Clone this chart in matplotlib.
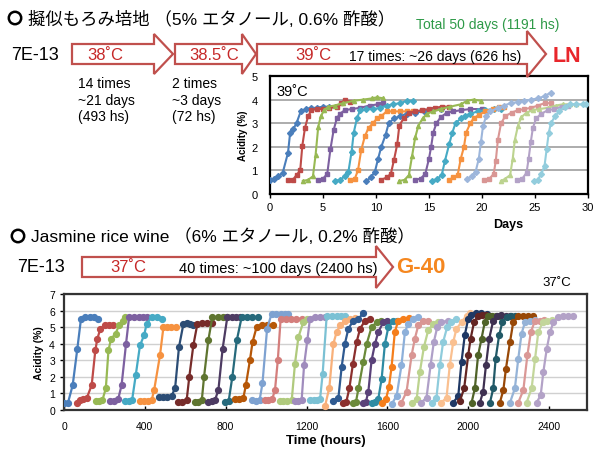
import matplotlib
matplotlib.use('Agg')
import matplotlib.pyplot as plt
from matplotlib.patches import Polygon, Circle

# 字体：拉丁文用 Liberation Sans，日文回退到 Noto Sans CJK JP
plt.rcParams['font.family'] = ['Liberation Sans', 'Noto Sans CJK JP']

# ---- 上段：擬似もろみ培地 39°C（Days）----
moromi_days = [
    [0, 0.4, 0.8, 1.2, 1.7, 1.9, 2.2, 2.5, 2.9, 3.4, 3.9, 4.4, 5.0, 5.6],
    [1.7, 2.15, 2.5, 2.85, 3.05, 3.3, 3.6, 3.9, 4.4, 5.0, 5.6, 6.3, 6.7, 7.1, 7.5],
    [3.1, 3.6, 4.05, 4.3, 4.55, 4.8, 5.1, 5.5, 6.1, 6.9, 7.9, 8.8, 9.6, 10.1, 10.7],
    [4.5, 5.0, 5.4, 5.7, 6.0, 6.3, 6.6, 7.05, 7.7, 8.5, 9.4, 10.2, 10.7],
    [6.1, 6.6, 7.05, 7.4, 7.7, 7.9, 8.2, 8.5, 9.1, 9.7, 10.4, 11.0, 11.6, 12.3, 12.9, 13.5],
    [7.5, 8.0, 8.3, 8.6, 8.95, 9.3, 9.7, 10.1, 10.5, 11.0, 11.6, 12.3, 12.9, 13.5],
    [9.1, 9.5, 9.9, 10.2, 10.5, 10.9, 11.2, 11.7, 12.3, 12.9, 13.7, 14.5, 15.3, 16.1],
    [10.5, 11.0, 11.4, 11.7, 12.0, 12.2, 12.6, 13.1, 13.7, 14.3, 15.0, 15.6, 16.2, 16.9],
    [12.2, 12.7, 13.1, 13.4, 13.7, 14.0, 14.4, 14.8, 15.4, 16.1, 17.0, 18.0, 18.6, 19.2, 19.9],
    [13.7, 14.2, 14.65, 15.0, 15.2, 15.4, 15.7, 16.1, 16.7, 17.3, 18.0, 18.9, 20.0],
    [15.3, 15.8, 16.2, 16.5, 16.9, 17.2, 17.5, 18.0, 18.4, 18.9, 19.6, 20.3, 21.1, 21.8],
    [16.9, 17.3, 17.7, 18.0, 18.3, 18.5, 18.9, 19.2, 19.7, 20.3, 21.0, 21.6, 22.1],
    [18.6, 19.1, 19.4, 19.7, 19.9, 20.1, 20.4, 20.8, 21.5, 22.1, 22.7, 23.4, 24.0, 24.6, 25.3, 25.9, 26.5],
    [20.2, 20.7, 21.1, 21.3, 21.5, 21.8, 22.2, 22.8, 23.4, 24.0, 24.6, 25.3, 25.9, 26.5],
    [21.8, 22.2, 22.65, 22.9, 23.1, 23.4, 23.7, 24.2, 24.8, 25.4, 26.2, 27.0, 27.6, 28.3, 28.9],
    [23.3, 23.8, 24.2, 24.4, 24.6, 24.8, 25.1, 25.6, 26.2, 26.8, 27.5, 28.1],
    [24.9, 25.25, 25.6, 25.9, 26.1, 26.3, 26.5, 26.9, 27.3, 27.8, 28.3, 28.9, 29.5, 29.8],
]
moromi_acid = [
    [0.6, 0.65, 0.75, 0.9, 1.75, 2.6, 2.75, 3.0, 3.5, 3.6, 3.65, 3.65, 3.7, 3.7],
    [0.6, 0.6, 0.8, 1.0, 2.05, 2.8, 3.3, 3.55, 3.6, 3.6, 3.65, 3.7, 3.85, 4.0, 3.9],
    [0.55, 0.6, 0.75, 1.65, 2.85, 3.3, 3.55, 3.7, 3.75, 3.85, 3.95, 4.0, 4.05, 4.1, 4.05],
    [0.6, 0.65, 0.85, 1.9, 2.7, 3.2, 3.4, 3.55, 3.6, 3.65, 3.75, 3.8, 3.85],
    [0.55, 0.6, 0.75, 0.95, 1.8, 2.6, 3.2, 3.55, 3.6, 3.6, 3.65, 3.75, 3.8, 3.85, 3.95, 3.95],
    [0.6, 0.65, 1.0, 1.85, 2.45, 2.8, 3.0, 3.2, 3.3, 3.5, 3.5, 3.5, 3.5, 3.5],
    [0.55, 0.7, 0.95, 1.5, 2.0, 2.5, 3.0, 3.2, 3.3, 3.4, 3.45, 3.5, 3.55, 3.6],
    [0.6, 0.7, 0.85, 1.45, 2.1, 2.9, 3.2, 3.45, 3.5, 3.55, 3.6, 3.65, 3.7, 3.7],
    [0.55, 0.6, 0.8, 1.6, 2.4, 2.9, 3.2, 3.4, 3.5, 3.6, 3.7, 3.8, 3.95, 4.0, 3.95],
    [0.6, 0.65, 0.85, 1.5, 2.0, 2.6, 3.0, 3.25, 3.45, 3.5, 3.55, 3.6, 3.6],
    [0.55, 0.65, 0.8, 1.4, 2.1, 2.6, 3.0, 3.2, 3.3, 3.4, 3.5, 3.55, 3.6, 3.6],
    [0.6, 0.7, 0.8, 1.5, 2.0, 2.6, 3.0, 3.2, 3.35, 3.5, 3.6, 3.7, 3.7],
    [0.65, 0.75, 0.95, 1.5, 2.2, 2.9, 3.3, 3.5, 3.65, 3.75, 3.85, 3.9, 3.95, 4.0, 4.05, 4.15, 4.3],
    [0.6, 0.65, 0.85, 1.4, 2.3, 3.0, 3.3, 3.45, 3.55, 3.6, 3.65, 3.75, 3.85, 3.85],
    [0.55, 0.65, 0.8, 1.5, 2.3, 2.9, 3.25, 3.45, 3.55, 3.6, 3.65, 3.75, 3.8, 3.8, 3.8],
    [0.6, 0.65, 0.9, 1.5, 2.2, 2.8, 3.2, 3.4, 3.55, 3.6, 3.7, 3.75],
    [0.55, 0.6, 0.85, 1.2, 1.9, 2.6, 3.0, 3.3, 3.5, 3.7, 3.8, 3.8, 3.8, 3.8],
]
moromi_colors = ['#4A7EBB', '#BE4B48', '#98B954', '#7D60A0', '#46AAC5', '#F69240',
                 '#4A7EBB', '#BE4B48', '#98B954', '#7D60A0', '#46AAC5', '#F69240',
                 '#9DB6DB', '#D99694', '#BCD38F', '#B3A2C7', '#93CDDD']
moromi_markers = ['D', 's', '^', 's', 'D', 's']

# ---- 下段：Jasmine rice wine 37°C（hours）----
wine_hours = [
    [0, 20, 43, 66, 84, 104, 128, 150, 170],
    [66, 80, 95, 112, 137, 155, 165, 180, 203, 225, 244],
    [158, 175, 190, 207, 220, 233, 255, 272, 290, 300],
    [228, 248, 268, 285, 307, 322, 345, 370, 390, 410],
    [302, 320, 337, 355, 376, 396, 409, 434, 460, 484],
    [376, 395, 415, 434, 446, 475, 492, 510, 530, 554],
    [470, 490, 512, 533, 550, 569, 591, 610, 625, 640],
    [566, 585, 607, 620, 640, 660, 685, 710, 731],
    [649, 665, 682, 693, 714, 734, 760, 785, 805],
    [714, 730, 747, 764, 785, 808, 830, 850, 871],
    [797, 815, 833, 855, 879, 905, 930, 962],
    [846, 865, 887, 900, 920, 933, 953, 978, 1005, 1036],
    [930, 950, 968, 982, 1005, 1027, 1050, 1075, 1095, 1110],
    [995, 1010, 1030, 1044, 1058, 1072, 1100, 1125, 1150, 1176],
    [1069, 1085, 1105, 1127, 1143, 1160, 1184, 1201],
    [1143, 1160, 1176, 1188, 1204, 1217, 1240, 1265, 1292],
    [1217, 1235, 1252, 1267, 1280, 1300, 1325, 1350, 1370, 1390],
    [1292, 1313, 1333, 1349, 1366, 1390, 1415, 1440],
    [1333, 1358, 1374, 1390, 1407, 1432, 1457, 1481],
    [1382, 1397, 1412, 1430, 1448, 1465, 1490, 1514],
    [1432, 1445, 1457, 1481, 1498, 1522, 1547, 1570],
    [1481, 1494, 1506, 1522, 1539, 1555, 1580, 1600],
    [1522, 1540, 1555, 1572, 1588, 1605, 1630, 1650],
    [1572, 1593, 1608, 1621, 1637, 1654, 1679, 1705],
    [1621, 1646, 1670, 1687, 1703, 1728, 1753],
    [1670, 1695, 1720, 1736, 1753, 1778, 1800],
    [1720, 1745, 1761, 1781, 1802, 1827, 1850],
    [1769, 1794, 1814, 1830, 1847, 1868, 1901],
    [1819, 1843, 1860, 1876, 1896, 1917, 1942],
    [1868, 1893, 1909, 1926, 1942, 1967, 1992, 2008],
    [1926, 1951, 1967, 1983, 2000, 2016, 2040, 2065, 2091],
    [1959, 1980, 2000, 2012, 2029, 2049, 2070, 2090, 2108],
    [2017, 2033, 2049, 2066, 2082, 2099, 2120, 2140, 2157],
    [2058, 2074, 2088, 2104, 2124, 2141, 2160, 2185, 2207],
    [2108, 2124, 2136, 2153, 2169, 2190, 2210, 2232],
    [2157, 2174, 2187, 2207, 2223, 2248, 2270, 2295, 2322],
    [2207, 2231, 2248, 2264, 2281, 2306, 2330],
    [2248, 2273, 2293, 2310, 2331, 2355, 2375],
    [2289, 2314, 2331, 2347, 2369, 2389, 2413],
    [2339, 2359, 2372, 2389, 2405, 2422, 2446, 2470, 2495, 2521],
]
wine_acid = [
    [0.45, 0.45, 1.5, 3.7, 5.5, 5.6, 5.6, 5.6, 5.5],
    [0.45, 0.6, 0.65, 0.7, 1.5, 3.6, 4.3, 4.9, 5.1, 5.15, 5.1],
    [0.55, 0.55, 0.6, 1.3, 3.6, 4.3, 4.6, 5.1, 5.4, 5.6],
    [0.55, 0.55, 0.65, 1.5, 4.0, 5.6, 5.6, 5.6, 5.6, 5.6],
    [0.55, 0.55, 0.6, 2.1, 3.9, 4.5, 5.2, 5.6, 5.6, 5.5],
    [0.55, 0.55, 0.55, 0.6, 1.2, 3.3, 5.0, 5.0, 5.0, 5.0],
    [0.8, 0.8, 0.8, 0.85, 1.35, 3.8, 5.2, 5.25, 5.2, 5.1],
    [0.5, 0.5, 0.6, 2.0, 3.9, 5.2, 5.25, 5.25, 5.25],
    [0.5, 0.5, 0.6, 2.0, 4.2, 5.6, 5.6, 5.6, 5.6],
    [0.5, 0.55, 0.6, 1.2, 3.7, 5.6, 5.6, 5.6, 5.6],
    [0.5, 0.55, 2.0, 4.2, 5.6, 5.6, 5.6, 5.6],
    [0.65, 0.65, 0.7, 1.5, 3.0, 4.1, 5.0, 5.1, 5.1, 5.1],
    [0.6, 0.55, 0.6, 1.6, 4.9, 5.8, 5.8, 5.8, 5.8, 5.8],
    [0.6, 0.6, 0.65, 1.2, 3.0, 5.5, 5.5, 5.5, 5.5, 5.5],
    [0.55, 0.55, 0.55, 0.6, 2.8, 4.4, 5.3, 5.5],
    [0.55, 0.55, 0.6, 2.7, 4.2, 5.5, 5.6, 5.6, 5.6],
    [0.6, 0.6, 0.6, 0.65, 2.2, 5.7, 5.7, 5.7, 5.7, 5.7],
    [0.25, 1.35, 4.0, 4.7, 5.1, 5.35, 5.5, 5.55],
    [0.55, 0.75, 2.6, 4.0, 4.9, 5.4, 5.5, 5.85],
    [0.45, 0.5, 1.3, 2.8, 4.1, 4.9, 5.4, 5.5],
    [0.45, 0.5, 1.3, 2.9, 4.0, 5.0, 5.3, 5.35],
    [0.45, 0.5, 1.1, 3.0, 4.0, 4.7, 5.3, 5.35],
    [0.45, 0.5, 0.65, 1.9, 4.0, 5.0, 5.35, 5.4],
    [0.45, 0.65, 1.4, 2.6, 4.7, 5.4, 5.5, 5.55],
    [0.35, 0.85, 2.7, 4.7, 5.2, 5.5, 5.6],
    [0.45, 1.1, 3.3, 4.3, 5.1, 5.4, 5.4],
    [0.45, 0.65, 2.3, 3.8, 4.8, 5.2, 5.3],
    [0.45, 0.75, 2.7, 4.1, 5.0, 5.3, 5.4],
    [0.45, 0.75, 2.7, 4.1, 5.0, 5.3, 5.5],
    [0.45, 0.75, 2.7, 4.1, 4.9, 5.3, 5.7, 5.85],
    [0.45, 0.85, 2.9, 4.5, 5.5, 5.75, 5.85, 5.85, 5.8],
    [0.55, 1.3, 3.3, 4.3, 5.3, 5.7, 5.75, 5.75, 5.7],
    [0.45, 1.3, 3.3, 4.3, 5.3, 5.65, 5.7, 5.7, 5.7],
    [0.45, 1.1, 2.7, 4.3, 5.4, 5.7, 5.75, 5.7, 5.7],
    [0.45, 1.3, 3.1, 4.5, 5.3, 5.6, 5.65, 5.65],
    [0.45, 1.2, 2.5, 4.1, 5.3, 5.65, 5.65, 5.7, 5.7],
    [0.45, 1.3, 3.1, 4.6, 5.3, 5.4, 5.45],
    [0.45, 1.2, 3.3, 4.7, 5.4, 5.4, 5.45],
    [0.45, 1.3, 3.1, 4.7, 5.3, 5.4, 5.45],
    [0.45, 0.9, 2.3, 3.7, 4.7, 5.3, 5.6, 5.65, 5.65, 5.65],
]
wine_colors = [
    '#4A7EBB', '#BE4B48', '#98B954', '#7D60A0', '#46AAC5', '#F69240',
    '#2C4D75', '#772C2A', '#5F7530', '#4D3B62', '#276A7C', '#B65708',
    '#7EA2D1', '#D47E7C', '#B0CA7D', '#A08CBD', '#7BC1D4', '#F8B07A',
    '#2F5A91', '#8B2F2E', '#6B8A3A', '#5A4279', '#2F8BA3', '#F57E1B',
    '#8DB0DA', '#D99694', '#BCD38F', '#AFA0C8', '#8FCCDC', '#FAC090',
    '#1F3864', '#632523', '#4F6228', '#3F3151', '#215967', '#984807',
    '#95B3D7', '#DA9896', '#C3D69B', '#B3A2C7',
]

W, H = 596, 452
fig = plt.figure(figsize=(W / 100, H / 100), dpi=100)

# 上段图
ax1 = fig.add_axes([270 / W, 1 - 195 / H, 318 / W, 118 / H])
for i in range(len(moromi_days)):
    ax1.plot(moromi_days[i], moromi_acid[i], color=moromi_colors[i], lw=1.5,
             marker=moromi_markers[i % 6], ms=3, zorder=3)
ax1.set_xlim(0, 30)
ax1.set_ylim(0, 5)
ax1.set_xticks(range(0, 31, 5))
ax1.set_yticks(range(0, 6))
ax1.yaxis.grid(True, color='#A6A6A6', lw=1.3)
ax1.set_axisbelow(True)
for s in ax1.spines.values():
    s.set_linewidth(1.6)
ax1.tick_params(labelsize=8, length=3, width=1, pad=3)
ax1.tick_params(axis='y', pad=9, length=0)
ax1.set_ylabel('Acidity (%)', fontsize=7, fontweight='bold', labelpad=2)

# 下段图
ax2 = fig.add_axes([64 / W, 1 - 411 / H, 523 / W, 116 / H])
for i in range(len(wine_hours)):
    ax2.plot(wine_hours[i], wine_acid[i], color=wine_colors[i], lw=1.6,
             marker='o', ms=4.2, zorder=3)
ax2.set_xlim(0, 2588)
ax2.set_ylim(0, 7)
ax2.set_xticks(range(0, 2401, 400))
ax2.set_yticks(range(0, 8))
ax2.yaxis.grid(True, color='#D0D0D0', lw=1)
ax2.set_axisbelow(True)
for s in ax2.spines.values():
    s.set_linewidth(1.6)
    s.set_color('#333333')
ax2.tick_params(labelsize=7.5, length=3, width=1)
ax2.tick_params(axis='x', direction='in', pad=8)
ax2.set_ylabel('Acidity (%)', fontsize=7.5, fontweight='bold', labelpad=4)
ax2.set_xlabel('Time (hours)', fontsize=9.5, fontweight='bold', labelpad=2)

# 注释层（像素坐标）
ov = fig.add_axes([0, 0, 1, 1], zorder=10)
ov.set_xlim(0, W)
ov.set_ylim(H, 0)
ov.axis('off')
ov.patch.set_alpha(0)


def block_arrow(x0, x1, xt, yc, hb, hh):
    pts = [(x0, yc - hb), (x1, yc - hb), (x1, yc - hh), (xt, yc),
           (x1, yc + hh), (x1, yc + hb), (x0, yc + hb)]
    ov.add_patch(Polygon(pts, closed=True, fc='white', ec='#C0504D', lw=1.6,
                         joinstyle='miter'))


red = '#C62828'
# 标题前的 ○
ov.add_patch(Circle((15, 19), 6.2, fc='none', ec='black', lw=1.8))
ov.add_patch(Circle((18, 237), 6.2, fc='none', ec='black', lw=1.8))

ov.text(28, 19, '擬似もろみ培地 （5% エタノール, 0.6% 酢酸）', fontsize=12.5, va='center')
ov.text(416, 25, 'Total 50 days (1191 hs)', fontsize=10, color='#2E9A48', va='center')

ov.text(11, 56, '7E-13', fontsize=13, va='center')
block_arrow(72, 154, 173, 55, 10, 20)
block_arrow(175, 242, 256, 55, 10, 20)
block_arrow(257, 527, 546, 55, 10, 23)
ov.text(105, 56, '38˚C', fontsize=12, color=red, ha='center', va='center')
ov.text(214, 56, '38.5˚C', fontsize=12, color=red, ha='center', va='center')
ov.text(313, 56, '39˚C', fontsize=12, color=red, ha='center', va='center')
ov.text(349, 57, '17 times: ~26 days (626 hs)', fontsize=10, va='center')
ov.text(553, 57, 'LN', fontsize=15.5, color='#E8262B', fontweight='bold', va='center')
ov.text(78, 77, '14 times\n~21 days\n(493 hs)', fontsize=10, va='top', linespacing=1.25)
ov.text(172, 77, '2 times\n~3 days\n(72 hs)', fontsize=10, va='top', linespacing=1.25)
ov.text(276, 92, '39˚C', fontsize=10.5, va='center')
ov.text(508, 225, 'Days', fontsize=9, fontweight='bold', ha='center', va='center')

ov.text(31, 237, 'Jasmine rice wine （6% エタノール, 0.2% 酢酸）', fontsize=12.5, va='center')
ov.text(17, 268, '7E-13', fontsize=13, va='center')
block_arrow(82, 376, 393, 268, 10, 21)
ov.text(128, 268, '37˚C', fontsize=12, color=red, ha='center', va='center')
ov.text(179, 269, '40 times: ~100 days (2400 hs)', fontsize=10.5, va='center')
ov.text(396, 268, 'G-40', fontsize=16, color='#F5871F', fontweight='bold', va='center')
ov.text(557, 283, '37˚C', fontsize=9.5, ha='center', va='center')

fig.savefig('out.png', dpi=100)
